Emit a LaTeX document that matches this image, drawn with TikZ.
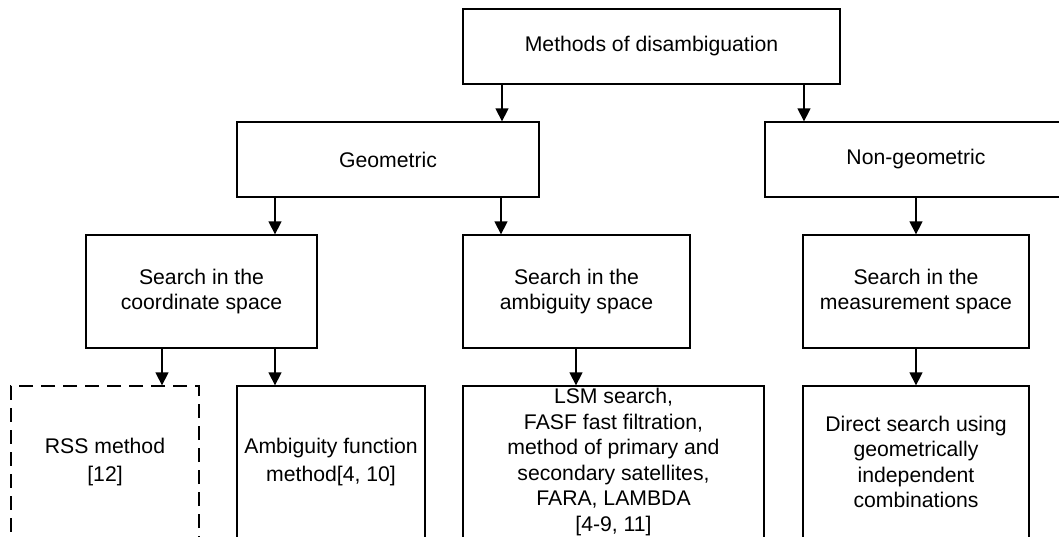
\documentclass[tikz,border=0pt]{standalone}
\usepackage{fontspec}
\setmainfont{Liberation Sans}
\usetikzlibrary{arrows.meta}
\begin{document}
\begin{tikzpicture}[x=0.5pt,y=-0.5pt,
 box/.style={draw=black, line width=0.65pt, rectangle, inner sep=0pt, align=center, font=\fontsize{10.6}{12.5}\selectfont},
 widebox/.style={box, font=\fontsize{10.6}{13.75}\selectfont},
 listbox/.style={box, font=\fontsize{10.6}{12.75}\selectfont},
 dbox/.style={widebox, dash pattern=on 7pt off 4pt},
 arr/.style={draw=black, line width=0.65pt, -{Triangle[width=6.5pt,length=6.5pt]}}]
\useasboundingbox (0,0) rectangle (1059,536);
\clip (0,0) rectangle (1059,536);
% level 0
\node[box, minimum width=188.5pt, minimum height=37.5pt] (top) at (651.5,46.5) {Methods of disambiguation};
% level 1
\node[box, minimum width=151pt, minimum height=37.5pt] (geo) at (388,159.5) {Geometric};
\node[box, minimum width=151pt, minimum height=37.5pt] (ngeo) at (916,159.5) {Non-geometric};
% level 2
\node[box, minimum width=115.5pt, minimum height=56.5pt] (coord) at (201.5,291.5) {Search in the\\coordinate space};
\node[box, minimum width=113.5pt, minimum height=56.5pt] (amb) at (576.5,291.5) {Search in the\\ambiguity space};
\node[box, minimum width=113pt, minimum height=56.5pt] (meas) at (916,291.5) {Search in the\\measurement space};
% level 3
\node[dbox, minimum width=94pt, minimum height=76pt] (rss) at (105,462) {RSS method\\{[}12{]}};
\node[widebox, minimum width=94pt, minimum height=76pt] (ambf) at (331,462) {Ambiguity function\\method[4, 10]};
\node[listbox, minimum width=150.5pt, minimum height=76pt] (lsm) at (613.5,462) {LSM search,\\FASF fast filtration,\\method of primary and\\secondary satellites,\\FARA, LAMBDA\\{[}4-9, 11{]}};
\node[listbox, minimum width=113pt, minimum height=76pt] (direct) at (916,462) {Direct search using\\geometrically\\independent\\combinations};
% arrow columns
\coordinate (xa) at (502,0);
\coordinate (xb) at (804,0);
\coordinate (xc) at (275,0);
\coordinate (xd) at (501,0);
\coordinate (xe) at (916,0);
\coordinate (xf) at (162,0);
\coordinate (xg) at (576,0);
% connectors
\draw[arr] (top.south -| xa) -- (geo.north -| xa);
\draw[arr] (top.south -| xb) -- (ngeo.north -| xb);
\draw[arr] (geo.south -| xc) -- (coord.north -| xc);
\draw[arr] (geo.south -| xd) -- (amb.north -| xd);
\draw[arr] (ngeo.south -| xe) -- (meas.north -| xe);
\draw[arr] (coord.south -| xf) -- (rss.north -| xf);
\draw[arr] (coord.south -| xc) -- (ambf.north -| xc);
\draw[arr] (amb.south -| xg) -- (lsm.north -| xg);
\draw[arr] (meas.south -| xe) -- (direct.north -| xe);
\end{tikzpicture}
\end{document}
